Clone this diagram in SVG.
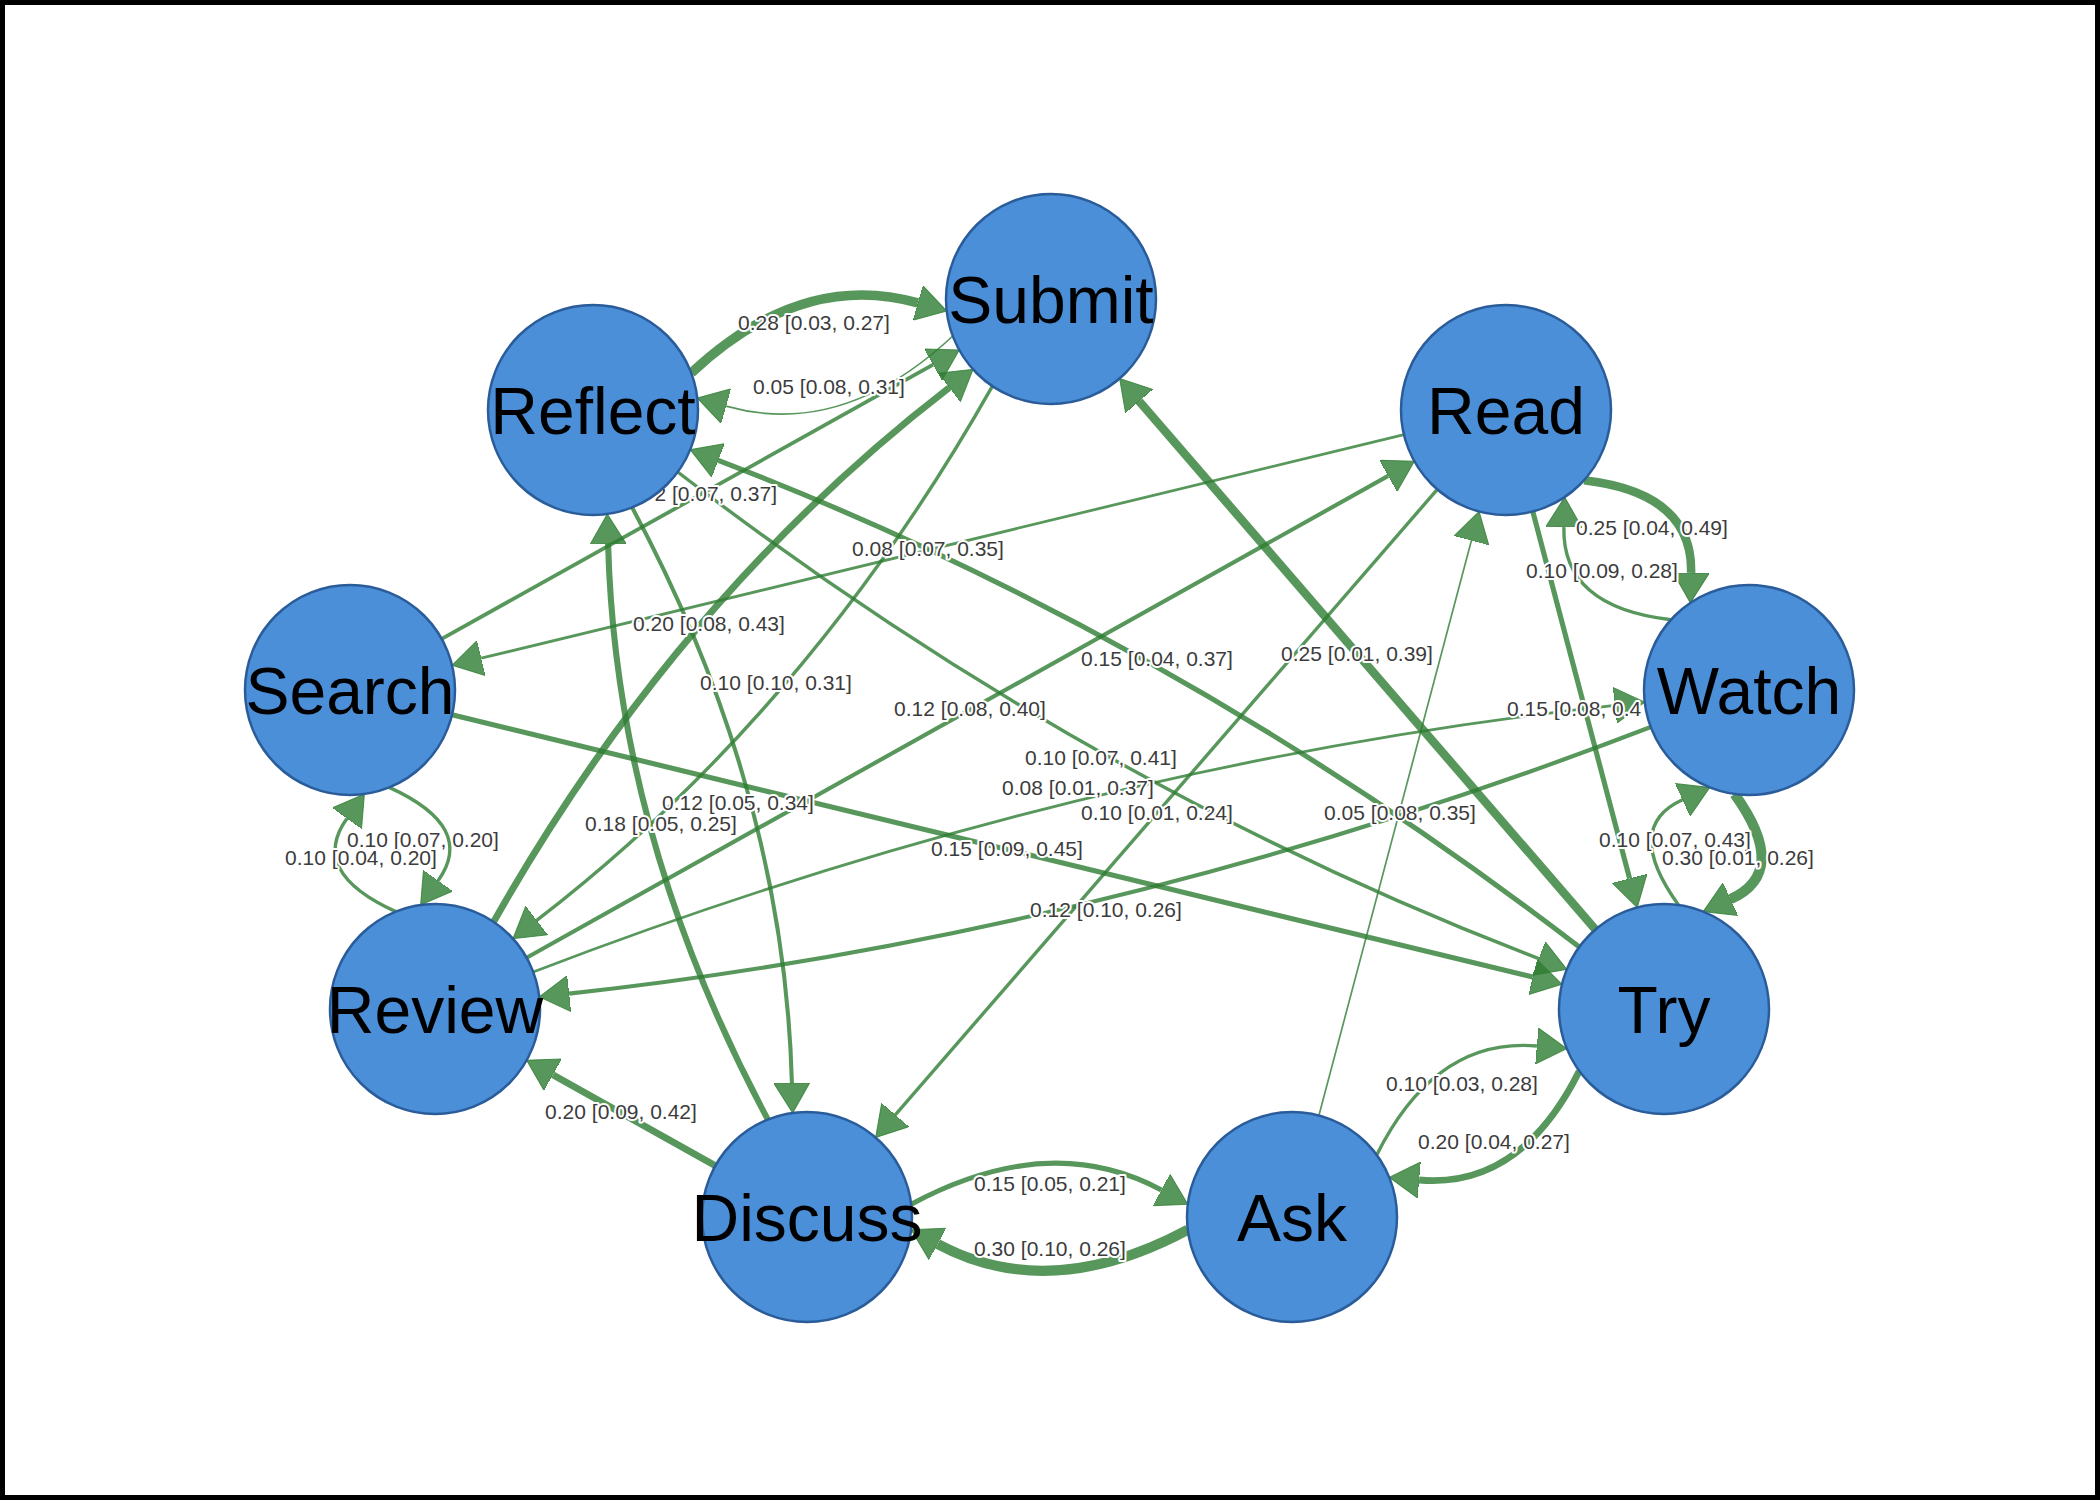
<svg xmlns="http://www.w3.org/2000/svg" width="2100" height="1500" viewBox="0 0 2100 1500">
<style>
.e{fill:none;stroke:#2e7d32;stroke-opacity:0.8;stroke-linecap:butt;marker-end:url(#ah)}
.lbl{font-family:"Liberation Sans",Arial,sans-serif;font-size:21px;fill:#3c3c3c;text-anchor:middle;stroke:#ffffff;stroke-width:4px;stroke-linejoin:round;paint-order:stroke}
.node circle{fill:#4a8fd8;stroke:#2b5c9a;stroke-width:2.5}
.node text{font-family:"Liberation Sans",Arial,sans-serif;font-size:66px;fill:#000;text-anchor:middle}
</style>
<defs>
<marker id="ah" viewBox="0 0 30 36" refX="0" refY="18" markerWidth="30" markerHeight="36" markerUnits="userSpaceOnUse" orient="auto">
<path d="M0,0 L30,18 L0,36 Z" fill="#2e7d32" fill-opacity="0.8" stroke="#2e7d32" stroke-opacity="0.8" stroke-width="1"/>
</marker>
</defs>
<rect x="0" y="0" width="2100" height="1500" fill="#ffffff"/>
<rect x="2.5" y="2.5" width="2095" height="1495" fill="none" stroke="#000" stroke-width="5"/>
<g id="connectors">
<path id="e-search-submit" class="e" style="stroke-width:3.8" d="M441.7,638.9 L933.1,364.7"/>
<path id="e-read-search" class="e" style="stroke-width:2.8" d="M1404.0,434.7 L481.2,658.2"/>
<path id="e-try-submit" class="e" style="stroke-width:8.5" d="M1595.4,929.5 L1139.2,401.2"/>
<path id="e-review-read" class="e" style="stroke-width:4.1" d="M526.6,957.7 L1388.2,475.9"/>
<path id="e-read-try" class="e" style="stroke-width:5.1" d="M1532.8,511.5 L1629.6,878.5"/>
<path id="e-search-try" class="e" style="stroke-width:5.1" d="M452.0,714.8 L1532.8,977.1"/>
<path id="e-read-discuss" class="e" style="stroke-width:3.4" d="M1437.3,489.4 L895.3,1114.9"/>
<path id="e-ask-read" class="e" style="stroke-width:1.7" d="M1318.9,1115.5 L1471.4,540.5"/>
<path id="e-discuss-review" class="e" style="stroke-width:6.8" d="M715.4,1165.8 L552.8,1074.8"/>
<path id="e-reflect-submit" class="e" style="stroke-width:9.5" d="M691.3,373.0 Q801.5,270.0 917.9,302.9"/>
<path id="e-submit-reflect" class="e" style="stroke-width:1.7" d="M952.8,336.0 Q842.5,439.1 726.1,406.1"/>
<path id="e-read-watch" class="e" style="stroke-width:8.5" d="M1584.0,480.3 Q1693.2,493.0 1691.1,572.9"/>
<path id="e-watch-read" class="e" style="stroke-width:3.4" d="M1671.0,619.7 Q1561.8,607.0 1563.9,527.1"/>
<path id="e-review-submit" class="e" style="stroke-width:6.8" d="M493.6,921.9 Q677.3,597.0 949.3,387.6"/>
<path id="e-submit-review" class="e" style="stroke-width:3.4" d="M992.4,386.1 Q808.7,711.0 536.7,920.4"/>
<path id="e-reflect-try" class="e" style="stroke-width:3.4" d="M677.7,472.0 Q1086.0,785.4 1538.8,958.6"/>
<path id="e-try-reflect" class="e" style="stroke-width:5.1" d="M1579.3,947.0 Q1171.0,633.6 718.2,460.4"/>
<path id="e-review-watch" class="e" style="stroke-width:2.8" d="M533.2,972.0 Q1071.5,765.0 1614.9,705.4"/>
<path id="e-watch-review" class="e" style="stroke-width:4.1" d="M1650.8,727.0 Q1112.5,934.1 569.1,993.6"/>
<path id="e-discuss-reflect" class="e" style="stroke-width:6.1" d="M767.9,1119.6 Q615.9,835.8 608.1,544.0"/>
<path id="e-reflect-discuss" class="e" style="stroke-width:4.1" d="M632.1,507.4 Q784.1,791.2 791.9,1083.0"/>
<path id="e-watch-try" class="e" style="stroke-width:10.2" d="M1734.5,794.0 Q1790.6,871.9 1730.5,899.2"/>
<path id="e-try-watch" class="e" style="stroke-width:3.4" d="M1678.5,905.0 Q1622.4,827.1 1682.5,799.8"/>
<path id="e-search-review" class="e" style="stroke-width:3.4" d="M389.2,787.4 Q476.6,827.1 438.1,880.7"/>
<path id="e-review-search" class="e" style="stroke-width:3.4" d="M395.8,911.6 Q308.4,871.9 346.9,818.4"/>
<path id="e-ask-try" class="e" style="stroke-width:3.4" d="M1376.7,1155.0 Q1435.5,1037.1 1536.9,1046.0"/>
<path id="e-try-ask" class="e" style="stroke-width:6.8" d="M1579.3,1071.0 Q1520.5,1188.9 1419.1,1180.0"/>
<path id="e-discuss-ask" class="e" style="stroke-width:5.1" d="M911.2,1204.2 Q1049.5,1130 1161.4,1190.0"/>
<path id="e-ask-discuss" class="e" style="stroke-width:10.2" d="M1187.8,1229.8 Q1049.5,1304 937.6,1244.0"/>
</g>
<g id="edge-labels">
<text class="lbl" x="814" y="329.5">0.28 [0.03, 0.27]</text>
<text class="lbl" x="829" y="393.5">0.05 [0.08, 0.31]</text>
<text class="lbl" x="777" y="500.5" style="text-anchor:end">2 [0.07, 0.37]</text>
<text class="lbl" x="928" y="555.5">0.08 [0.07, 0.35]</text>
<text class="lbl" x="1652" y="534.5">0.25 [0.04, 0.49]</text>
<text class="lbl" x="1602" y="577.5">0.10 [0.09, 0.28]</text>
<text class="lbl" x="709" y="630.5">0.20 [0.08, 0.43]</text>
<text class="lbl" x="1357" y="660.5">0.25 [0.01, 0.39]</text>
<text class="lbl" x="1157" y="665.5">0.15 [0.04, 0.37]</text>
<text class="lbl" x="776" y="689.5">0.10 [0.10, 0.31]</text>
<text class="lbl" x="970" y="715.5">0.12 [0.08, 0.40]</text>
<text class="lbl" x="1507" y="715.5" style="text-anchor:start">0.15 [0.08, 0.4</text>
<text class="lbl" x="1101" y="764.5">0.10 [0.07, 0.41]</text>
<text class="lbl" x="1078" y="794.5">0.08 [0.01, 0.37]</text>
<text class="lbl" x="738" y="809.5">0.12 [0.05, 0.34]</text>
<text class="lbl" x="1157" y="819.5">0.10 [0.01, 0.24]</text>
<text class="lbl" x="1400" y="819.5">0.05 [0.08, 0.35]</text>
<text class="lbl" x="661" y="830.5">0.18 [0.05, 0.25]</text>
<text class="lbl" x="423" y="846.5">0.10 [0.07, 0.20]</text>
<text class="lbl" x="361" y="864.5">0.10 [0.04, 0.20]</text>
<text class="lbl" x="1007" y="855.5">0.15 [0.09, 0.45]</text>
<text class="lbl" x="1675" y="846.5">0.10 [0.07, 0.43]</text>
<text class="lbl" x="1738" y="864.5">0.30 [0.01, 0.26]</text>
<text class="lbl" x="1106" y="916.5">0.12 [0.10, 0.26]</text>
<text class="lbl" x="621" y="1118.5">0.20 [0.09, 0.42]</text>
<text class="lbl" x="1462" y="1090.5">0.10 [0.03, 0.28]</text>
<text class="lbl" x="1494" y="1148.5">0.20 [0.04, 0.27]</text>
<text class="lbl" x="1050" y="1190.5">0.15 [0.05, 0.21]</text>
<text class="lbl" x="1050" y="1255.5">0.30 [0.10, 0.26]</text>
</g>
<g id="node-submit" class="node"><circle cx="1051" cy="299" r="105"/><text x="1051" y="323">Submit</text></g>
<g id="node-reflect" class="node"><circle cx="593" cy="410" r="105"/><text x="593" y="434">Reflect</text></g>
<g id="node-read" class="node"><circle cx="1506" cy="410" r="105"/><text x="1506" y="434">Read</text></g>
<g id="node-search" class="node"><circle cx="350" cy="690" r="105"/><text x="350" y="714">Search</text></g>
<g id="node-watch" class="node"><circle cx="1749" cy="690" r="105"/><text x="1749" y="714">Watch</text></g>
<g id="node-review" class="node"><circle cx="435" cy="1009" r="105"/><text x="435" y="1033">Review</text></g>
<g id="node-try" class="node"><circle cx="1664" cy="1009" r="105"/><text x="1664" y="1033">Try</text></g>
<g id="node-discuss" class="node"><circle cx="807" cy="1217" r="105"/><text x="807" y="1241">Discuss</text></g>
<g id="node-ask" class="node"><circle cx="1292" cy="1217" r="105"/><text x="1292" y="1241">Ask</text></g>
</svg>
